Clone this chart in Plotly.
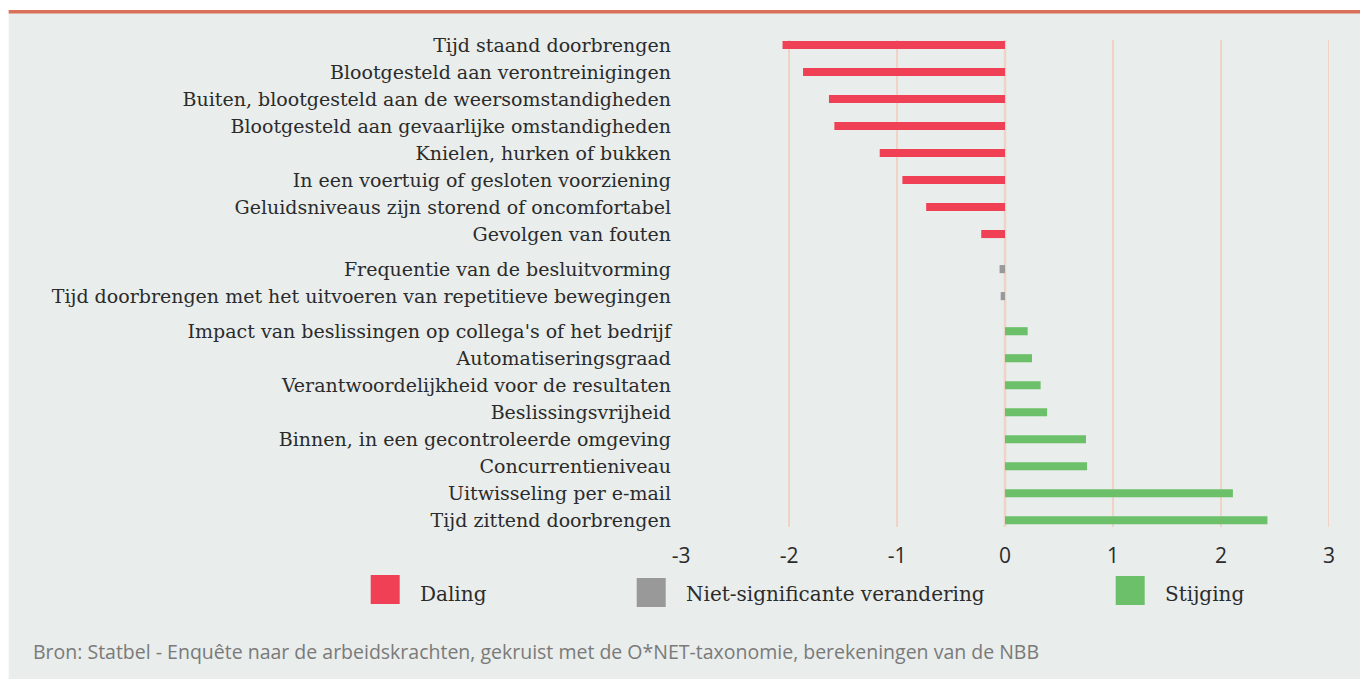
import plotly.graph_objects as go

# ---- data ----
labels_down = [
    "Tijd staand doorbrengen",
    "Blootgesteld aan verontreinigingen",
    "Buiten, blootgesteld aan de weersomstandigheden",
    "Blootgesteld aan gevaarlijke omstandigheden",
    "Knielen, hurken of bukken",
    "In een voertuig of gesloten voorziening",
    "Geluidsniveaus zijn storend of oncomfortabel",
    "Gevolgen van fouten",
]
values_down = [-2.06, -1.87, -1.63, -1.58, -1.16, -0.95, -0.73, -0.22]

labels_ns = [
    "Frequentie van de besluitvorming",
    "Tijd doorbrengen met het uitvoeren van repetitieve bewegingen",
]
values_ns = [-0.05, -0.04]

labels_up = [
    "Impact van beslissingen op collega's of het bedrijf",
    "Automatiseringsgraad",
    "Verantwoordelijkheid voor de resultaten",
    "Beslissingsvrijheid",
    "Binnen, in een gecontroleerde omgeving",
    "Concurrentieniveau",
    "Uitwisseling per e-mail",
    "Tijd zittend doorbrengen",
]
values_up = [0.21, 0.25, 0.33, 0.39, 0.75, 0.76, 2.11, 2.43]

legend_names = ["Daling", "Niet-significante verandering", "Stijging"]
x_ticks = [-3, -2, -1, 0, 1, 2, 3]
x_ticktext = ["-3", "-2", "-1", "0", "1", "2", "3"]
source_text = ("Bron: Statbel - Enquête naar de arbeidskrachten, gekruist met de "
               "O*NET-taxonomie, berekeningen van de NBB")

# ---- style ----
RED = "#ef4056"
GRAY = "#999999"
GREEN = "#6cc069"
BG = "#e9edeb"
GRID = "#f0d3c6"
TXT = "#2b2b2b"
GAP = 0.3  # extra space between groups (in row units)

groups = [(labels_down, values_down, RED),
          (labels_ns, values_ns, GRAY),
          (labels_up, values_up, GREEN)]

fig = go.Figure()
tickvals, ticktext = [], []
row = 0
for gi, (labs, vals, col) in enumerate(groups):
    ys = [row + i + GAP * gi for i in range(len(labs))]
    row += len(labs)
    tickvals += ys
    ticktext += labs
    fig.add_trace(go.Bar(
        x=vals, y=ys, orientation="h", marker=dict(color=col, line=dict(width=0)),
        width=0.3, showlegend=False, hoverinfo="x+text", text=labs, textposition="none",
    ))

# geometry (body margin removed via post_script, so figure pixels = page pixels)
W, H = 1360, 679
L, R = 681.3, 1329.3
T, B = 40, 527

def px(p):
    return (p - L) / (R - L)

def py(p):
    return (B - p) / (B - T)

shapes = []
# background
shapes.append(dict(type="rect", xref="paper", yref="paper", x0=px(9), x1=px(1370),
                   y0=py(690), y1=py(10), fillcolor=BG, line=dict(width=0), layer="below"))
shapes.append(dict(type="rect", xref="paper", yref="paper", x0=px(9), x1=px(1370),
                   y0=py(13.5), y1=py(10), fillcolor="#d9705a", line=dict(width=0), layer="below"))
# grid lines
for v in x_ticks[1:]:
    shapes.append(dict(type="line", xref="x", yref="paper", x0=v, x1=v, y0=0, y1=1,
                       line=dict(color=GRID, width=2.5 if v == 0 else 2), layer="below"))

# legend (manual)
leg_sq = [(371, 575), (637, 578), (1116, 576)]
leg_tx = [420, 686, 1165]
annotations = []
for (sx, sy), tx, name, col in zip(leg_sq, leg_tx, legend_names, [RED, GRAY, GREEN]):
    shapes.append(dict(type="rect", xref="paper", yref="paper", x0=px(sx), x1=px(sx + 29),
                       y0=py(sy + 29), y1=py(sy), fillcolor=col, line=dict(width=0)))
    annotations.append(dict(x=px(tx), y=py(594), xref="paper", yref="paper", text=name,
                            showarrow=False, xanchor="left", yanchor="middle", xshift=-2,
                            font=dict(family="DejaVu Serif", size=20, color=TXT)))

annotations.append(dict(x=px(33), y=py(651), xref="paper", yref="paper", text=source_text,
                        showarrow=False, xanchor="left", yanchor="middle", xshift=-2,
                        font=dict(family="Open Sans", size=19.5, color="#7a7a7a")))

fig.update_layout(
    width=W, height=H,
    margin=dict(l=L, r=W - R, t=T, b=H - B, pad=0),
    paper_bgcolor="white", plot_bgcolor="rgba(0,0,0,0)",
    barmode="overlay",
    shapes=shapes, annotations=annotations,
    xaxis=dict(range=[-3, 3], tickvals=x_ticks, ticktext=x_ticktext, showgrid=False,
               zeroline=False, showline=False, ticks="", ticklabelstandoff=14,
               tickfont=dict(family="Open Sans", size=21, color=TXT), fixedrange=True),
    yaxis=dict(range=[17.85, -0.185], tickvals=tickvals, ticktext=ticktext,
               showgrid=False, zeroline=False, showline=False, ticks="",
               ticklabelstandoff=9,
               tickfont=dict(family="DejaVu Serif", size=19, color=TXT), fixedrange=True),
    showlegend=False,
)

fig.write_html("out.html",
               config={"displayModeBar": False},
               post_script="document.body.style.margin='0px';"
                           "document.body.style.overflow='hidden';")
